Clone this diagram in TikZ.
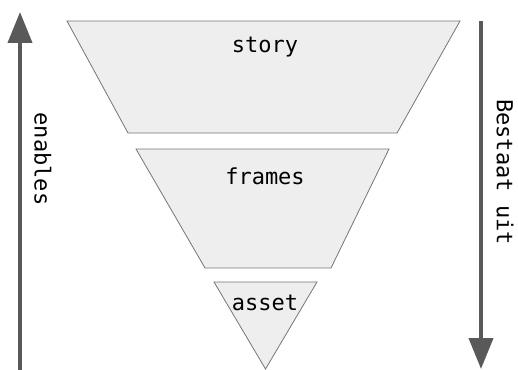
\documentclass[tikz,border=0pt]{standalone}
\usepackage{fontspec}
\setmonofont{DejaVu Sans Mono}
\usetikzlibrary{arrows.meta}
\definecolor{fillgray}{HTML}{EEEEEE}
\definecolor{edgegray}{HTML}{757575}
\definecolor{arrowgray}{HTML}{595959}
\begin{document}
\begin{tikzpicture}[x=1pt,y=-1pt,
  level/.style={fill=fillgray,draw=edgegray,line width=0.8pt,line join=miter},
  lbl/.style={font=\ttfamily\fontsize{22}{25}\selectfont,text=black,inner sep=0pt},
  bigarrow/.style={draw=arrowgray,line width=4pt,-{Triangle[length=31pt,width=24pt]}}]
\useasboundingbox (0,0) rectangle (518,369);
% shapes
\draw[level] (67,21) -- (460,21) -- (397,133) -- (128,133) -- cycle;
\draw[level] (136,149) -- (389,149) -- (331,268) -- (205,268) -- cycle;
\draw[level] (214,282) -- (317,282) -- (265.5,369) -- cycle;
% labels
\node[lbl] (story) at (265,47) {story};
\node[lbl] (frames) at (265,176) {frames};
\node[lbl] (asset) at (265,303) {asset};
% arrows
\coordinate (lb) at (20,372);
\coordinate (lt) at (20,12);
\coordinate (rt) at (481,21);
\coordinate (rb) at (481,369);
\draw[bigarrow] (lb) -- (lt);
\draw[bigarrow] (rt) -- (rb);
\node[lbl,rotate=-90] (enables) at (43,159) {enables};
\node[lbl,rotate=-90] (bestaat) at (505,172) {Bestaat uit};
\end{tikzpicture}
\end{document}
